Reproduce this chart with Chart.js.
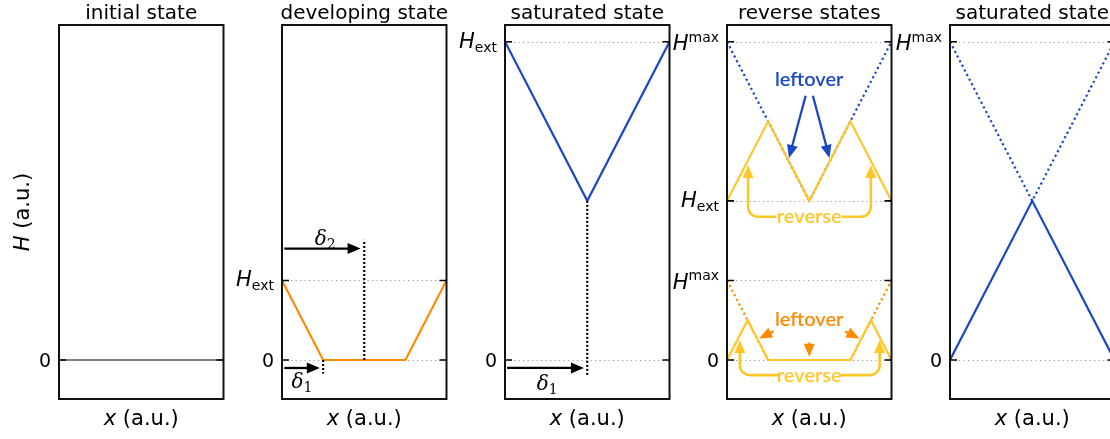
<!DOCTYPE html>
<html>
<head>
<meta charset="utf-8">
<script src="https://cdn.jsdelivr.net/npm/chart.js@4.4.1/dist/chart.umd.min.js"></script>
<style>
  html, body { margin: 0; padding: 0; background: #fff; overflow: hidden; }
  #wrap { position: relative; width: 1110px; height: 439px; overflow: hidden; }
  #wrap canvas { position: absolute; top: 0; }
</style>
</head>
<body>
<div id="wrap"></div>
<script>
// ---- data -------------------------------------------------------------
const panelTitles = ['initial state', 'developing state', 'saturated state', 'reverse states', 'saturated state'];

// y tick values and their labels per panel
const tickValues = [[0], [0, 1], [0, 4], [0, 1, 2, 4], [0, 4]];
const tickLabels = [['0'], ['0', 'H_ext'], ['0', 'H_ext'], ['0', 'H^max', 'H_ext', 'H^max'], ['0', 'H^max']];

// initial state: flat field
const initX = [0, 1];
const initH = [0, 0];

// developing state (field partially penetrated)
const devX = [0, 0.25, 0.75, 1];
const devH = [1, 0, 0, 1];

// saturated state (V profile)
const satX = [0, 0.5, 1];
const satH = [4, 2, 4];

// reverse states: new profiles on top of the leftover ones
const revUpX = [0, 0.25, 0.5, 0.75, 1];
const revUpH = [2, 3, 2, 3, 2];
const revLowX = [0, 0.125, 0.25, 0.75, 0.875, 1];
const revLowH = [0, 0.5, 0, 0, 0.5, 0];

// final saturated state (inverted V) with the old profile
const invX = [0, 0.5, 1];
const invH = [0, 2, 0];

// ---- look -------------------------------------------------------------
const BLUE = '#1a47c6', ORANGE = '#ff8a00', YELLOW = '#ffc62a', GREY = '#7f7f7f';
const SANS = '"DejaVu Sans", sans-serif';
const SERIF = '"DejaVu Serif", serif';
const LABEL_SANS = 'Lato, "DejaVu Sans", sans-serif';
const Y_MIN = -0.49, Y_MAX = 4.21;
const PANEL_LEFT = [59, 281.75, 504.5, 727.25, 950];
const PANEL_W = 164.5, PAD_L = 59, CANVAS_W = 232, H_TOTAL = 439;
const LW = 2.2;

const pts = (xs, ys) => xs.map((x, i) => ({ x, y: ys[i] }));
const solid = (xs, ys, color) => ({ data: pts(xs, ys), borderColor: color, borderWidth: LW });
const dotted = (xs, ys, color) => ({ data: pts(xs, ys), borderColor: color, borderWidth: LW, borderDash: [2.2, 3] });

// ---- annotations (in data units) --------------------------------------
const devNotes = {
  arrows: [{ from: [0.014, 1.40], to: [0.478, 1.40], color: '#000' },
           { from: [0.014, -0.10], to: [0.23, -0.10], color: '#000' }],
  vlines: [{ x: 0.5, y0: 0, y1: 1.51 }, { x: 0.25, y0: 0, y1: -0.17 }],
  deltas: [{ x: 0.263, y: 1.53, sub: '2' }, { x: 0.121, y: -0.27, sub: '1' }]
};
const satNotes = {
  arrows: [{ from: [0.013, -0.10], to: [0.48, -0.10], color: '#000' }],
  vlines: [{ x: 0.5, y0: 2, y1: -0.19 }],
  deltas: [{ x: 0.256, y: -0.29, sub: '1' }]
};
const revNotes = {
  texts: [{ x: 0.5, y: 3.52, t: 'leftover', color: BLUE },
          { x: 0.5, y: 1.80, t: 'reverse', color: YELLOW },
          { x: 0.5, y: 0.51, t: 'leftover', color: ORANGE },
          { x: 0.5, y: -0.19, t: 'reverse', color: YELLOW }],
  arrows: [{ from: [0.478, 3.32], to: [0.377, 2.54], color: BLUE },
           { from: [0.522, 3.32], to: [0.623, 2.54], color: BLUE },
           { from: [0.282, 0.36], to: [0.195, 0.27], color: ORANGE },
           { from: [0.5, 0.22], to: [0.5, 0.04], color: ORANGE },
           { from: [0.718, 0.36], to: [0.805, 0.27], color: ORANGE }],
  brackets: [{ xText: 0.30, xVert: 0.128, yH: 1.80, yTip: 2.45 },
             { xText: 0.70, xVert: 0.874, yH: 1.80, yTip: 2.45 },
             { xText: 0.32, xVert: 0.078, yH: -0.19, yTip: 0.25 },
             { xText: 0.68, xVert: 0.928, yH: -0.19, yTip: 0.25 }]
};

// ---- drawing helpers --------------------------------------------------
function arrowHead(ctx, x1, y1, ang, hl, hw) {
  const bx = x1 - hl * Math.cos(ang), by = y1 - hl * Math.sin(ang);
  ctx.beginPath();
  ctx.moveTo(x1, y1);
  ctx.lineTo(bx + hw / 2 * Math.sin(ang), by - hw / 2 * Math.cos(ang));
  ctx.lineTo(bx - hw / 2 * Math.sin(ang), by + hw / 2 * Math.cos(ang));
  ctx.closePath();
  ctx.fill();
}
function arrow(ctx, x0, y0, x1, y1, color) {
  const hl = 13, hw = 11;
  const ang = Math.atan2(y1 - y0, x1 - x0);
  ctx.save();
  ctx.strokeStyle = color; ctx.fillStyle = color; ctx.lineWidth = 2.3; ctx.setLineDash([]);
  ctx.beginPath();
  ctx.moveTo(x0, y0);
  ctx.lineTo(x1 - (hl - 1) * Math.cos(ang), y1 - (hl - 1) * Math.sin(ang));
  ctx.stroke();
  arrowHead(ctx, x1, y1, ang, hl, hw);
  ctx.restore();
}
function bracket(ctx, xText, xVert, yH, yTip) {
  const r = 10, hl = 13, hw = 11;
  const dir = xVert < xText ? -1 : 1;
  ctx.save();
  ctx.strokeStyle = YELLOW; ctx.fillStyle = YELLOW; ctx.lineWidth = 2.6; ctx.setLineDash([]);
  ctx.beginPath();
  ctx.moveTo(xText, yH);
  ctx.lineTo(xVert - dir * r, yH);
  ctx.arcTo(xVert, yH, xVert, yH - r, r);
  ctx.lineTo(xVert, yTip + hl - 1);
  ctx.stroke();
  arrowHead(ctx, xVert, yTip, -Math.PI / 2, hl, hw);
  ctx.restore();
}
// text with optional sub/superscript: 'H_ext', 'H^max', plain
function mathParts(label) {
  if (label.includes('_')) {
    const [a, b] = label.split('_');
    return [{ t: a, f: 'italic 21px ' + SANS, dy: -1 }, { t: b, f: '14px ' + SANS, dy: 3 }];
  }
  if (label.includes('^')) {
    const [a, b] = label.split('^');
    return [{ t: a, f: 'italic 21px ' + SANS, dy: 1.5 }, { t: b, f: '14px ' + SANS, dy: -7 }];
  }
  return [{ t: label, f: '19px ' + SANS, dy: 0 }];
}
function drawParts(ctx, parts, x, baseline, align) {
  let w = 0;
  parts.forEach(p => { ctx.font = p.f; p.w = ctx.measureText(p.t).width; w += p.w; });
  let cx = align === 'right' ? x - w : align === 'center' ? x - w / 2 : x;
  ctx.textAlign = 'left'; ctx.textBaseline = 'alphabetic';
  parts.forEach(p => { ctx.font = p.f; ctx.fillText(p.t, cx, baseline + p.dy); cx += p.w; });
}

function panelPlugin(cfg) {
  return {
    id: 'panelDecor',
    beforeDatasetsDraw(chart) {
      const { ctx, chartArea: a, scales: { y } } = chart;
      ctx.save();
      ctx.strokeStyle = '#9a9a9a'; ctx.lineWidth = 1; ctx.setLineDash([1.2, 3.3]);
      cfg.ticks.forEach(v => {
        const py = Math.round(y.getPixelForValue(v)) + 0.5;
        ctx.beginPath(); ctx.moveTo(a.left, py); ctx.lineTo(a.right, py); ctx.stroke();
      });
      ctx.restore();
    },
    afterDatasetsDraw(chart) {
      const { ctx, chartArea: a, scales: { x, y } } = chart;
      const X = v => x.getPixelForValue(v), Y = v => y.getPixelForValue(v);
      const n = cfg.notes || {};
      ctx.save();
      // dotted verticals
      (n.vlines || []).forEach(l => {
        ctx.strokeStyle = '#000'; ctx.lineWidth = 2.2; ctx.setLineDash([2, 2]);
        ctx.beginPath(); ctx.moveTo(X(l.x), Y(l.y0)); ctx.lineTo(X(l.x), Y(l.y1)); ctx.stroke();
      });
      ctx.setLineDash([]);
      (n.arrows || []).forEach(r => arrow(ctx, X(r.from[0]), Y(r.from[1]), X(r.to[0]), Y(r.to[1]), r.color));
      (n.brackets || []).forEach(b => bracket(ctx, X(b.xText), X(b.xVert), Y(b.yH), Y(b.yTip)));
      (n.texts || []).forEach(t => {
        ctx.fillStyle = t.color; ctx.font = '600 20px ' + LABEL_SANS;
        ctx.textAlign = 'center'; ctx.textBaseline = 'middle';
        ctx.fillText(t.t, X(t.x), Y(t.y));
      });
      (n.deltas || []).forEach(d => {
        ctx.fillStyle = '#000';
        drawParts(ctx, [{ t: 'δ', f: 'italic 20px ' + SERIF, dy: 0 }, { t: d.sub, f: '14px ' + SERIF, dy: 4 }],
          X(d.x), Y(d.y) + 7, 'center');
      });
      // frame
      ctx.strokeStyle = '#111'; ctx.lineWidth = 2;
      ctx.strokeRect(a.left, a.top, a.right - a.left, a.bottom - a.top);
      // inward tick marks and labels
      ctx.lineWidth = 1.6; ctx.fillStyle = '#000'; ctx.strokeStyle = '#000';
      cfg.ticks.forEach((v, i) => {
        const py = Y(v);
        ctx.beginPath();
        ctx.moveTo(a.left, py); ctx.lineTo(a.left + 7, py);
        ctx.moveTo(a.right - 7, py); ctx.lineTo(a.right, py);
        ctx.stroke();
        drawParts(ctx, mathParts(cfg.labels[i]), a.left - 8, py + 7, 'right');
      });
      // panel title
      const cx = (a.left + a.right) / 2;
      ctx.fillStyle = '#000'; ctx.font = '20px ' + SANS; ctx.textAlign = 'center'; ctx.textBaseline = 'alphabetic';
      ctx.fillText(cfg.title, cx, 18.5);
      // x axis title
      drawParts(ctx, [{ t: 'x', f: 'italic 21px ' + SANS, dy: 0 }, { t: ' (a.u.)', f: '21px ' + SANS, dy: 0 }], cx, 425, 'center');
      // y axis title (first panel only)
      if (cfg.yTitle) {
        ctx.save();
        ctx.translate(29, (a.top + a.bottom) / 2);
        ctx.rotate(-Math.PI / 2);
        drawParts(ctx, [{ t: 'H', f: 'italic 21px ' + SANS, dy: 0 }, { t: ' (a.u.)', f: '21px ' + SANS, dy: 0 }], 0, 0, 'center');
        ctx.restore();
      }
      ctx.restore();
    }
  };
}

function makePanel(i, datasets, notes) {
  const wrap = document.getElementById('wrap');
  const c = document.createElement('canvas');
  c.width = CANVAS_W; c.height = H_TOTAL;
  c.style.left = (PANEL_LEFT[i] - PAD_L) + 'px';
  c.style.width = CANVAS_W + 'px'; c.style.height = H_TOTAL + 'px';
  wrap.appendChild(c);
  const cfg = { title: panelTitles[i], ticks: tickValues[i], labels: tickLabels[i], notes, yTitle: i === 0 };
  new Chart(c, {
    type: 'line',
    data: { datasets },
    options: {
      responsive: false, animation: false, devicePixelRatio: 1,
      layout: { padding: { left: PAD_L, right: CANVAS_W - PAD_L - PANEL_W, top: 25, bottom: 40 } },
      scales: {
        x: { type: 'linear', min: 0, max: 1, display: false },
        y: { type: 'linear', min: Y_MIN, max: Y_MAX, display: false }
      },
      elements: { point: { radius: 0 }, line: { tension: 0, borderCapStyle: 'butt' } },
      plugins: { legend: { display: false }, tooltip: { enabled: false } }
    },
    plugins: [panelPlugin(cfg)]
  });
}

makePanel(0, [solid(initX, initH, GREY)]);
makePanel(1, [solid(devX, devH, ORANGE)], devNotes);
makePanel(2, [solid(satX, satH, BLUE)], satNotes);
makePanel(3, [solid(revUpX, revUpH, YELLOW), solid(revLowX, revLowH, YELLOW),
              dotted(satX, satH, BLUE), dotted(devX, devH, ORANGE)], revNotes);
makePanel(4, [dotted(satX, satH, BLUE), solid(invX, invH, BLUE)]);
</script>
</body>
</html>
